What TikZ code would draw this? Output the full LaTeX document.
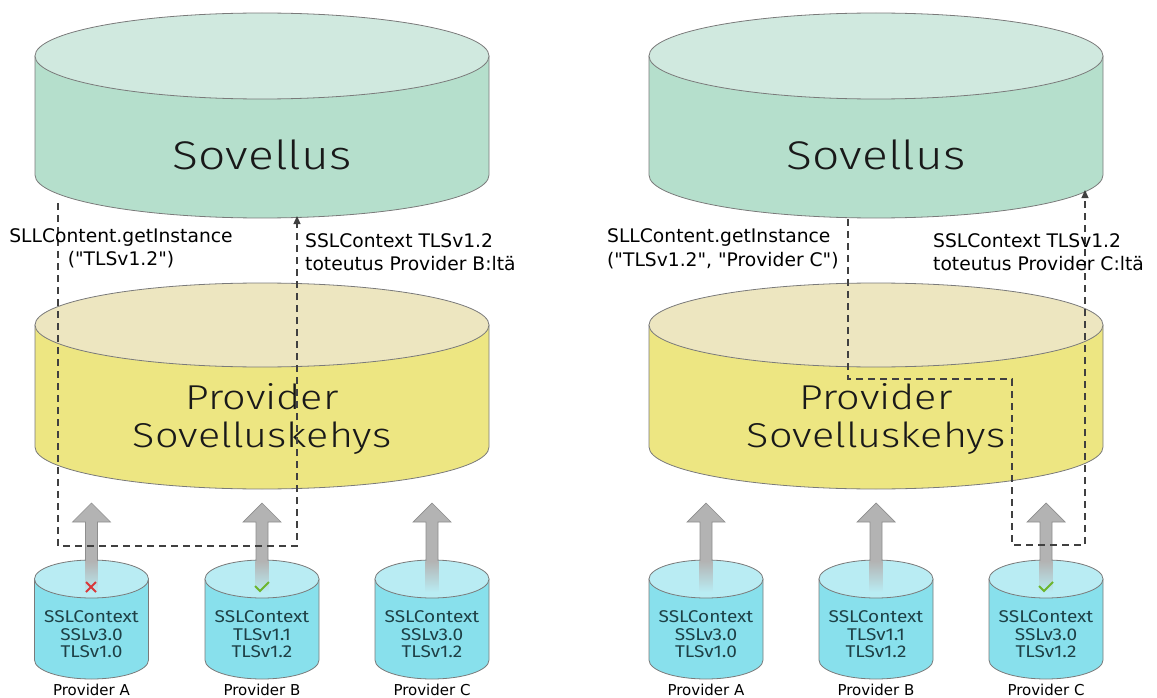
\documentclass[tikz,border=0pt]{standalone}
\usepackage{fontspec}
\setmainfont{DejaVu Sans}[Ligatures=TeXOff]
\newfontfamily\tech{Fira Sans}[UprightFont=* Light, FakeStretch=1.2]
\newfontfamily\techsmall{Fira Sans}[FakeStretch=1.12]
\usetikzlibrary{arrows.meta}

\definecolor{outl}{HTML}{7A7A7A}
\definecolor{appbody}{HTML}{B5DFCC}
\definecolor{apptop}{HTML}{D0E9DF}
\definecolor{fwbody}{HTML}{EDE682}
\definecolor{fwtop}{HTML}{EDE6C0}
\definecolor{provbody}{HTML}{88E0EC}
\definecolor{provtop}{HTML}{B9ECF3}
\definecolor{provtext}{HTML}{1E4046}
\definecolor{arrgray}{HTML}{B3B3B3}
\definecolor{arredge}{HTML}{8E8E8E}
\definecolor{dashgray}{HTML}{404040}
\definecolor{okgreen}{HTML}{6CB52D}
\definecolor{badred}{HTML}{D9383A}

% drum: cx, top centre y, bottom centre y, rx, ry, body colour, top colour
\newcommand\drum[7]{%
  \path[fill=#6, draw=outl, line width=0.8pt]
    (#1-#4,#2) -- (#1-#4,#3)
    arc[start angle=180, end angle=360, x radius=#4pt, y radius=#5pt]
    -- (#1+#4,#2) -- cycle;
  \path[fill=#7, draw=outl, line width=0.8pt] (#1,#2) ellipse[x radius=#4pt, y radius=#5pt];
}

% provider drum with its block arrow and caption
\newcommand\provider[5]{% cx, name, line2, line3, caption
  \drum{#1}{579}{660}{57}{19}{provbody}{provtop}
  \path[fill=arrgray, draw=arredge, line width=0.7pt]
    (#1-6,562) -- (#1-6,522) -- (#1-19,522) -- (#1,503) -- (#1+19,522)
    -- (#1+6,522) -- (#1+6,562);
  \shade[top color=arrgray, bottom color=provtop] (#1-6.4,561) rectangle (#1+6.4,592);
  \node[provtxt] (#2-txt) at (#1,634.5) {SSLContext\\#3\\#4};
  \node[provcap] (#2-cap) at (#1,690) {#5};
}

\tikzset{
  apptxt/.style={font=\tech\fontsize{40}{40}\selectfont, text=black!90, inner sep=0pt, align=center},
  fwtxt/.style={font=\tech\fontsize{34.5}{38}\selectfont, text=black!90, inner sep=0pt, align=center},
  provtxt/.style={font=\techsmall\fontsize{17}{17.5}\selectfont, text=provtext, inner sep=0pt, align=center},
  provcap/.style={font=\fontsize{15}{15}\selectfont, inner sep=0pt},
  lbl/.style={font=\fontsize{18.7}{23.5}\selectfont, inner sep=0pt},
  flow/.style={draw=dashgray, line width=1.1pt, dash pattern=on 7pt off 5pt,
    -{Triangle[length=8pt, width=7pt]}},
  tick/.style={draw=okgreen, line width=2pt},
  cross/.style={draw=badred, line width=1.8pt},
}

\begin{document}
\begin{tikzpicture}[x=1pt, y=-1pt]
\useasboundingbox (0,0) rectangle (1157,698);

% ---------- left: default provider lookup ----------
\drum{262}{56}{175}{227}{43}{appbody}{apptop}
\node[apptxt] (appL) at (262,155) {Sovellus};
\drum{262}{325}{447}{227}{42}{fwbody}{fwtop}
\node[fwtxt] (fwL) at (262,419) {Provider\\Sovelluskehys};

\provider{91.5}{pAL}{SSLv3.0}{TLSv1.0}{Provider A}
\provider{262}{pBL}{TLSv1.1}{TLSv1.2}{Provider B}
\provider{432}{pCL}{SSLv3.0}{TLSv1.2}{Provider C}

\draw[cross] (86,582) -- (96,592) (96,582) -- (86,592);
\draw[tick] (255,586) -- (260,591) -- (269,582);

\coordinate (L1) at (58,203);
\coordinate (Lc) at (297,546);
\coordinate (L2) at (297,216);
\draw[flow] (L1) |- (Lc) -- (L2);

\node[lbl, align=center] (callL) at (121,248.5) {SLLContent.getInstance\\("TLSv1.2")};
\node[lbl, align=left, anchor=west] (retL) at (305,252) {SSLContext TLSv1.2\\toteutus Provider B:ltä};

% ---------- right: explicitly named provider ----------
\drum{876}{56}{175}{227}{43}{appbody}{apptop}
\node[apptxt] (appR) at (876,155) {Sovellus};
\drum{876}{325}{447}{227}{42}{fwbody}{fwtop}
\node[fwtxt] (fwR) at (876,419) {Provider\\Sovelluskehys};

\provider{706}{pAR}{SSLv3.0}{TLSv1.0}{Provider A}
\provider{876}{pBR}{TLSv1.1}{TLSv1.2}{Provider B}
\provider{1046}{pCR}{SSLv3.0}{TLSv1.2}{Provider C}

\draw[tick] (1039,586) -- (1044,591) -- (1053,582);

\coordinate (R1) at (848,219);
\coordinate (Rm) at (1012,379);
\coordinate (Rc) at (1085,545);
\coordinate (R2) at (1085,190);
\draw[flow] (R1) |- (Rm) |- (Rc) -- (R2);

\node[lbl, align=left, anchor=west] (callR) at (607,249) {SLLContent.getInstance\\("TLSv1.2", "Provider C")};
\node[lbl, align=left, anchor=west] (retR) at (933,252) {SSLContext TLSv1.2\\toteutus Provider C:ltä};
\end{tikzpicture}
\end{document}
